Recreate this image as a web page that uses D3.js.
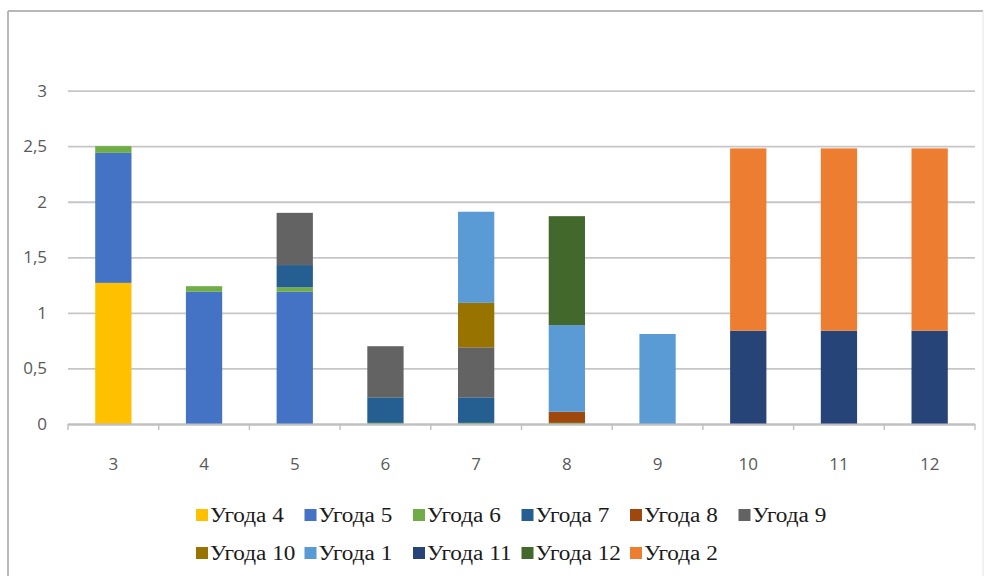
<!DOCTYPE html>
<html>
<head>
<meta charset="utf-8">
<script src="https://cdn.jsdelivr.net/npm/d3@7/dist/d3.min.js"></script>
<style>
  html, body { margin: 0; padding: 0; background: #ffffff; }
  svg { display: block; }
</style>
</head>
<body>
<script>
// Categories along the x axis
const categories = ["3", "4", "5", "6", "7", "8", "9", "10", "11", "12"];

// Series in stacking order (bottom to top), one value per category
const seriesNames = ["Угода 4", "Угода 5", "Угода 6", "Угода 7", "Угода 8", "Угода 9",
                     "Угода 10", "Угода 1", "Угода 11", "Угода 12", "Угода 2"];
const ugoda4  = [1.27, 0,    0,    0,    0,    0,    0,    0,    0,    0];
const ugoda5  = [1.17, 1.19, 1.19, 0,    0,    0,    0,    0,    0,    0];
const ugoda6  = [0.06, 0.05, 0.04, 0.01, 0.01, 0.01, 0,    0,    0,    0];
const ugoda7  = [0,    0,    0.20, 0.23, 0.23, 0,    0,    0,    0,    0];
const ugoda8  = [0,    0,    0,    0,    0,    0.10, 0,    0,    0,    0];
const ugoda9  = [0,    0,    0.47, 0.46, 0.45, 0,    0,    0,    0,    0];
const ugoda10 = [0,    0,    0,    0,    0.40, 0,    0,    0,    0,    0];
const ugoda1  = [0,    0,    0,    0,    0.82, 0.78, 0.81, 0,    0,    0];
const ugoda11 = [0,    0,    0,    0,    0,    0,    0,    0.84, 0.84, 0.84];
const ugoda12 = [0,    0,    0,    0,    0,    0.98, 0,    0,    0,    0];
const ugoda2  = [0,    0,    0,    0,    0,    0,    0,    1.64, 1.64, 1.64];
const seriesValues = [ugoda4, ugoda5, ugoda6, ugoda7, ugoda8, ugoda9,
                      ugoda10, ugoda1, ugoda11, ugoda12, ugoda2];

const seriesColors = ["#FFC000", "#4472C4", "#70AD47", "#255E91", "#9E480E", "#636363",
                      "#997300", "#5B9BD5", "#264478", "#43682B", "#ED7D31"];

// Y axis ticks and their labels (comma decimal separator)
const yTicks = [0, 0.5, 1, 1.5, 2, 2.5, 3];
const yTickLabels = ["0", "0,5", "1", "1,5", "2", "2,5", "3"];

// Legend rows
const legendRows = [
  ["Угода 4", "Угода 5", "Угода 6", "Угода 7", "Угода 8", "Угода 9"],
  ["Угода 10", "Угода 1", "Угода 11", "Угода 12", "Угода 2"]
];

const W = 987, H = 576;
const plot = { left: 68, right: 975, top: 90.6, bottom: 424 };

const svg = d3.select("body").append("svg")
  .attr("width", W).attr("height", H);

svg.append("rect").attr("x", 0).attr("y", 0).attr("width", W).attr("height", H).attr("fill", "#ffffff");

// Chart frame
svg.append("line").attr("x1", 8).attr("y1", 11).attr("x2", 983).attr("y2", 11)
  .attr("stroke", "#b8b8b8").attr("stroke-width", 2);
svg.append("line").attr("x1", 8).attr("y1", 11).attr("x2", 8).attr("y2", 576)
  .attr("stroke", "#b8b8b8").attr("stroke-width", 2);
svg.append("line").attr("x1", 983).attr("y1", 11).attr("x2", 983).attr("y2", 576)
  .attr("stroke", "#e4e4e4").attr("stroke-width", 1);

const x = d3.scaleBand().domain(categories)
  .range([plot.left, plot.right]).paddingInner(0.6).paddingOuter(0.3);
const xBand = d3.scaleBand().domain(categories).range([plot.left, plot.right]);
const y = d3.scaleLinear().domain([0, 3]).range([plot.bottom, plot.top]);

const axisFont = "'Open Sans', 'Noto Sans', sans-serif";

// Gridlines with y labels
const yAxis = d3.axisLeft(y).tickValues(yTicks)
  .tickSize(-(plot.right - plot.left))
  .tickPadding(21)
  .tickFormat((d, i) => yTickLabels[i]);
const gy = svg.append("g").attr("transform", `translate(${plot.left},0)`).call(yAxis);
gy.select(".domain").remove();
gy.selectAll(".tick line").attr("stroke", "#c6c6c6").attr("stroke-width", 1.8);
gy.selectAll(".tick text")
  .attr("fill", "#595959")
  .style("font-family", axisFont)
  .style("font-size", "17px");

// Stacked bars
const table = categories.map((c, i) => {
  const row = { cat: c };
  seriesNames.forEach((s, k) => { row[s] = seriesValues[k][i]; });
  return row;
});
const stacked = d3.stack().keys(seriesNames)(table);

svg.append("g").selectAll("g")
  .data(stacked)
  .join("g")
  .attr("fill", (d, i) => seriesColors[i])
  .selectAll("rect")
  .data(d => d.filter(p => p[1] - p[0] > 0))
  .join("rect")
  .attr("x", d => x(d.data.cat))
  .attr("width", x.bandwidth())
  .attr("y", d => y(d[1]))
  .attr("height", d => y(d[0]) - y(d[1]));

// X axis with tick marks at category boundaries
const axisG = svg.append("g");
axisG.append("line")
  .attr("x1", plot.left).attr("x2", plot.right)
  .attr("y1", plot.bottom + 0.5).attr("y2", plot.bottom + 0.5)
  .attr("stroke", "#bfbfbf").attr("stroke-width", 1.8);
const boundaries = categories.map(c => xBand(c)).concat([plot.right]);
axisG.selectAll("line.tk").data(boundaries).join("line")
  .attr("class", "tk")
  .attr("x1", d => d).attr("x2", d => d)
  .attr("y1", plot.bottom).attr("y2", plot.bottom + 6)
  .attr("stroke", "#bfbfbf").attr("stroke-width", 1.4);
axisG.selectAll("text").data(categories).join("text")
  .attr("x", d => xBand(d) + xBand.bandwidth() / 2)
  .attr("y", 470)
  .attr("text-anchor", "middle")
  .attr("fill", "#595959")
  .style("font-family", axisFont)
  .style("font-size", "17px")
  .text(d => d);

// Legend
const legendX0 = 196, legendPitch = 108.5, legendY = [515, 553];
legendRows.forEach((row, r) => {
  const g = svg.append("g");
  row.forEach((name, j) => {
    const k = seriesNames.indexOf(name);
    const lx = legendX0 + j * legendPitch;
    g.append("rect")
      .attr("x", lx).attr("y", legendY[r] - 6)
      .attr("width", 12).attr("height", 12)
      .attr("fill", seriesColors[k]);
    const t = g.append("text")
      .attr("x", lx + 14).attr("y", legendY[r] + 6.5)
      .attr("fill", "#1a1a1a")
      .style("font-family", "'Liberation Serif', 'DejaVu Serif', serif")
      .style("font-size", "20px")
      .text(name);
    // slightly wider glyphs, as in the legend typeface used
    const w = t.node().getComputedTextLength();
    t.attr("textLength", w * 1.16).attr("lengthAdjust", "spacingAndGlyphs");
  });
});
</script>
</body>
</html>
